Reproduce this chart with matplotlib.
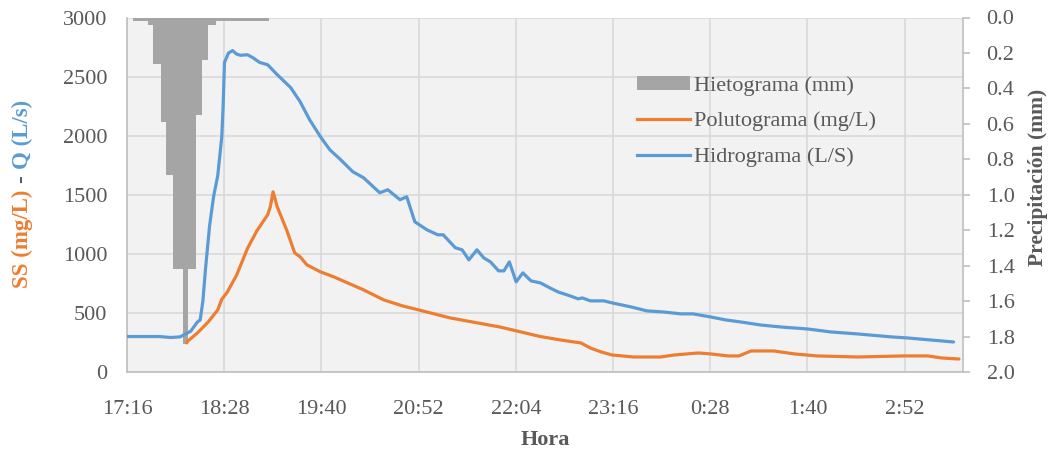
import matplotlib
matplotlib.use("Agg")
import matplotlib.pyplot as plt
from matplotlib.patches import Patch
from matplotlib.lines import Line2D
import numpy as np

plt.rcParams['font.family'] = ['Liberation Serif', 'DejaVu Serif']

# Hietograma: bordes de los intervalos (hora) y lámina de cada intervalo (mm)
hieto_bordes = ["17:21", "17:32", "17:36", "17:42", "17:46", "17:51", "17:58",
                "18:02", "18:08", "18:12", "18:17", "18:23", "19:02"]
hieto_mm = [0.02, 0.04, 0.26, 0.59, 0.89, 1.42, 1.84, 1.42, 0.55, 0.24, 0.04, 0.02]

# Hidrograma (L/s)
hidro_hora = ["17:17", "17:41", "17:49", "17:56", "18:04", "18:09", "18:11", "18:13",
              "18:15", "18:18", "18:21", "18:24", "18:27", "18:28", "18:29", "18:32",
              "18:35", "18:38", "18:41", "18:46", "18:50", "18:55", "19:01", "19:08",
              "19:18", "19:25", "19:32", "19:40", "19:47", "19:55", "20:04", "20:12",
              "20:24", "20:30", "20:39", "20:44", "20:50", "20:59", "21:07", "21:11",
              "21:20", "21:25", "21:30", "21:36", "21:41", "21:46", "21:52", "21:56",
              "22:00", "22:05", "22:10", "22:16", "22:23", "22:30", "22:36", "22:45",
              "22:51", "22:54", "23:00", "23:10", "23:16", "23:30", "23:42", "23:54",
              "0:07", "0:16", "0:29", "0:40", "0:51", "1:06", "1:21", "1:41",
              "1:58", "2:18", "2:43", "2:55", "3:12", "3:29"]
hidro_q = [300, 300, 292, 297, 345, 424, 440, 600,
           880, 1240, 1490, 1660, 1990, 2250, 2620, 2700,
           2720, 2690, 2680, 2685, 2660, 2620, 2600, 2517,
           2407, 2288, 2136, 1992, 1881, 1797, 1695, 1644,
           1517, 1542, 1458, 1483, 1271, 1203, 1161, 1161,
           1051, 1034, 949, 1034, 966, 932, 856, 856,
           932, 763, 839, 771, 754, 712, 678, 644,
           619, 627, 602, 602, 585, 551, 517, 508,
           492, 492, 466, 441, 424, 398, 381, 364,
           339, 322, 297, 288, 271, 254]

# Polutograma, sólidos suspendidos (mg/L)
polu_hora = ["18:01", "18:02", "18:09", "18:17", "18:24", "18:27", "18:31", "18:38",
             "18:46", "18:53", "19:01", "19:03", "19:05", "19:08", "19:15", "19:21",
             "19:25", "19:30", "19:40", "19:50", "19:55", "20:12", "20:27", "20:41",
             "20:53", "21:16", "21:53", "22:23", "22:38", "22:53", "23:00", "23:08",
             "23:16", "23:32", "23:52", "0:02", "0:20", "0:29", "0:42", "0:50",
             "0:59", "1:16", "1:31", "1:48", "2:18", "2:52", "3:10", "3:20", "3:33"]
polu_ss = [246, 263, 331, 424, 525, 615, 675, 820,
           1045, 1195, 1331, 1400, 1525, 1400, 1203, 1008,
           975, 907, 848, 805, 780, 695, 610, 559,
           525, 458, 381, 300, 271, 246, 203, 170,
           144, 127, 127, 144, 161, 153, 136, 136,
           178, 178, 153, 136, 127, 136, 136, 119, 110]

GRIS_TXT = '#595959'
GRIS_EJE = '#BFBFBF'
NARANJA = '#ED7D31'
AZUL = '#5B9BD5'
GRIS_BARRA = '#A5A5A5'


def minutos(h):
    # minutos desde la medianoche del primer día
    hh, mm = map(int, h.split(":"))
    m = hh * 60 + mm
    if hh < 12:
        m += 1440
    return m


x0 = 17 * 60 + 16.8          # 0.72 días
paso = 72                    # 0.05 días
x1 = x0 + 0.43 * 1440

fig = plt.figure(figsize=(10.53, 4.55), dpi=100)
W, H = 1053, 455
ax = fig.add_axes([127 / W, 1 - 372 / H, (963 - 127) / W, 354.5 / H])
ax.set_facecolor('#F2F2F2')
ax.set_xlim(x0, x1)
ax.set_ylim(0, 3000)
ax.set_yticks(np.arange(0, 3001, 500))
ticks = [x0 + paso * k for k in range(9)]
ax.set_xticks(ticks)
ax.set_xticklabels(['%d:%02d' % ((int(t) // 60) % 24, int(t) % 60) for t in ticks])
ax.grid(True, color='#D9D9D9', lw=1.2)
ax.set_axisbelow(True)
ax.tick_params(axis='both', length=0, labelsize=16, labelcolor=GRIS_TXT)
ax.tick_params(axis='y', pad=14)
ax.tick_params(axis='x', pad=20)
for s in ['top', 'right']:
    ax.spines[s].set_visible(False)
for s in ['left', 'bottom']:
    ax.spines[s].set_color(GRIS_EJE)
    ax.spines[s].set_linewidth(1.2)

# eje secundario: precipitación invertida
ax2 = ax.twinx()
ax2.set_zorder(ax.get_zorder() + 1)
ax2.set_ylim(2.0, 0.0)
ax2.set_yticks(np.arange(0, 2.01, 0.2))
ax2.set_yticklabels(['%.1f' % v for v in np.arange(0, 2.01, 0.2)])
ax2.tick_params(axis='y', length=5, width=1.2, color=GRIS_EJE, labelsize=16,
                labelcolor=GRIS_TXT, pad=12)
for s in ['top', 'left', 'bottom']:
    ax2.spines[s].set_visible(False)
ax2.spines['right'].set_color(GRIS_EJE)
ax2.spines['right'].set_linewidth(1.2)

bordes = [minutos(h) for h in hieto_bordes]
ax2.bar(bordes[:-1], hieto_mm, width=np.diff(bordes), align='edge',
        color=GRIS_BARRA, linewidth=0)

# curvas encima de las barras
ax3 = fig.add_axes(ax.get_position(), sharex=ax, sharey=ax)
ax3.set_zorder(ax2.get_zorder() + 1)
ax3.patch.set_visible(False)
ax3.axis('off')
ax3.plot([minutos(h) for h in polu_hora], polu_ss, color=NARANJA, lw=2.3,
         solid_joinstyle='round', solid_capstyle='round')
ax3.plot([minutos(h) for h in hidro_hora], hidro_q, color=AZUL, lw=2.3,
         solid_joinstyle='round', solid_capstyle='round')

handles = [Patch(facecolor=GRIS_BARRA, edgecolor='none'),
           Line2D([], [], color=NARANJA, lw=2.3),
           Line2D([], [], color=AZUL, lw=2.3)]
labels = ['Hietograma (mm)', 'Polutograma (mg/L)', 'Hidrograma (L/S)']
ax3.legend(handles, labels, loc='upper left', bbox_to_anchor=(637 / W, 1 - 76 / H),
           bbox_transform=fig.transFigure, frameon=False, fontsize=16,
           handlelength=2.4, handleheight=0.55, handletextpad=0.15,
           labelspacing=0.72, borderpad=0, borderaxespad=0, labelcolor=GRIS_TXT)

# títulos de ejes
fig.text(545 / W, 1 - 440 / H, 'Hora', fontsize=16, fontweight='bold',
         color=GRIS_TXT, ha='center', va='center')
fig.text(1038 / W, 1 - 177 / H, 'Precipitación (mm)', fontsize=15.5,
         fontweight='bold', color=GRIS_TXT, rotation=90, ha='center', va='center')

# título izquierdo en tres colores, apilado de abajo hacia arriba
renderer = fig.canvas.get_renderer()
partes = [('SS (mg/L)', NARANJA), ('-', GRIS_TXT), ('Q (L/s)', AZUL)]
textos = [fig.text(0, 0, t, fontsize=16.5, fontweight='bold', color=c,
                   rotation=90, ha='center', va='bottom') for t, c in partes]
alturas = [t.get_window_extent(renderer).height for t in textos]
hueco = 0.3 * 16.5 * fig.dpi / 72
total = sum(alturas) + hueco * (len(alturas) - 1)
y = (H - 194) - total / 2
for t, h in zip(textos, alturas):
    t.set_position((22 / W, y / H))
    y += h + hueco

fig.savefig('out.png', dpi=100, facecolor='white')
